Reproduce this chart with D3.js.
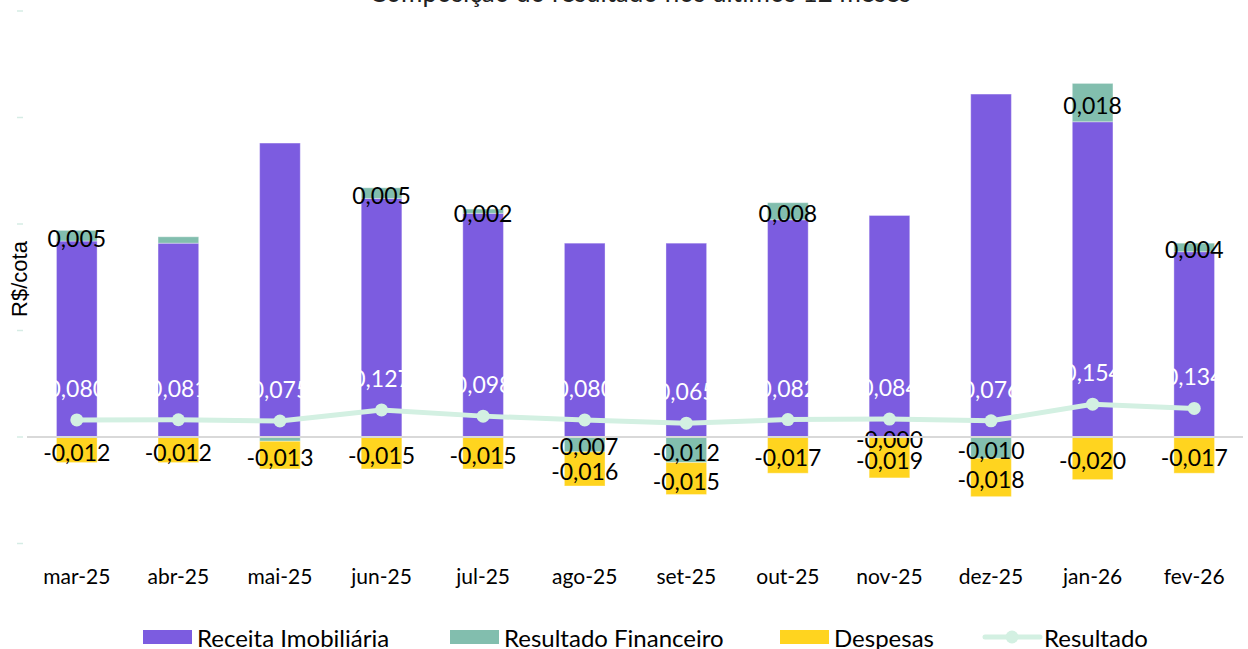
<!DOCTYPE html>
<html lang="pt">

<head>
    <meta charset="utf-8" />
    <script src="https://cdnjs.cloudflare.com/ajax/libs/d3/7.8.5/d3.min.js"></script>
    <style type="text/css">
        body {
            margin: 0;
            background: #fff;
        }

        text {
            font-family: Lato, "Open Sans", sans-serif;
        }
    </style>
</head>

<body>
    <div id="chart"></div>
    <script type="text/javascript">
        // values
        var months = ["mar-25", "abr-25", "mai-25", "jun-25", "jul-25", "ago-25",
            "set-25", "out-25", "nov-25", "dez-25", "jan-26", "fev-26"];
        var receita = [0.092, 0.091, 0.138, 0.112, 0.105, 0.091, 0.091, 0.102, 0.104, 0.161, 0.148, 0.087];
        var financeiro = [0.005, 0.003, -0.002, 0.005, 0.002, -0.007, -0.012, 0.008, -0.0002, -0.010, 0.018, 0.004];
        var showFinLabel = [true, false, false, true, true, true, true, true, true, true, true, true];
        var despesas = [-0.012, -0.012, -0.013, -0.015, -0.015, -0.016, -0.015, -0.017, -0.019, -0.018, -0.020, -0.017];
        var resultado = [0.080, 0.081, 0.075, 0.127, 0.098, 0.080, 0.065, 0.082, 0.084, 0.076, 0.154, 0.134];
        var yTicks = [-0.05, 0, 0.05, 0.1, 0.15, 0.2];

        var legendItems = [
            { name: "Receita Imobiliária", color: "#7c5ce0", kind: "bar", x: 143 },
            { name: "Resultado Financeiro", color: "#82beae", kind: "bar", x: 450 },
            { name: "Despesas", color: "#ffd41f", kind: "bar", x: 780 },
            { name: "Resultado", color: "#d3f0e2", kind: "line", x: 985 }
        ];

        var width = 1248, height = 649;
        var cPurple = "#7c5ce0", cTeal = "#82beae", cYellow = "#ffd41f", cLine = "#d3f0e2";

        var ptBR = d3.formatLocale({
            decimal: ",", thousands: ".", grouping: [3], currency: ["R$ ", ""], minus: "-"
        });
        var f3 = ptBR.format(".3f");
        // keep the sign on tiny negatives (-0,000) like the original
        var fmt = function (v) { return (v < 0 ? "-" : "") + f3(Math.abs(v)); };

        var svg = d3.select("#chart").append("svg")
            .attr("width", width)
            .attr("height", height);

        var x = d3.scaleBand()
            .domain(months)
            .range([26, 1245])
            .paddingInner(0.6)
            .paddingOuter(0.3);

        var y = d3.scaleLinear().domain([-0.05, 0.2]).range([543.5, 11]);
        // secondary axis for the line (hidden)
        var y2 = d3.scaleLinear().domain([-0.5, 2.0]).range([543.5, 11]);

        // build stacked segments
        var rows = months.map(function (m, i) {
            var r = receita[i], f = financeiro[i], d = despesas[i];
            var finLo = f >= 0 ? r : f, finHi = f >= 0 ? r + f : 0;
            var dBase = f < 0 ? f : 0;
            return {
                month: m,
                segs: [
                    { key: "rec", color: cPurple, y0: 0, y1: r },
                    { key: "fin", color: cTeal, y0: finLo, y1: finHi, value: f, show: showFinLabel[i] },
                    { key: "desp", color: cYellow, y0: dBase + d, y1: dBase, value: d, show: true }
                ]
            };
        });

        // title (mostly above the visible area, like the reference)
        svg.append("text")
            .attr("x", 640)
            .attr("y", 2)
            .attr("text-anchor", "middle")
            .style("font-size", "26px")
            .attr("fill", "#222")
            .text("Composição do resultado nos últimos 12 meses");

        // tiny y tick marks
        svg.append("g").selectAll("line")
            .data(yTicks)
            .enter().append("line")
            .attr("x1", 17).attr("x2", 23)
            .attr("y1", function (d) { return y(d); })
            .attr("y2", function (d) { return y(d); })
            .attr("stroke", "#d6ece5")
            .attr("stroke-width", 1.5);

        svg.append("text")
            .attr("transform", "translate(27," + 279 + ") rotate(-90)")
            .attr("text-anchor", "middle")
            .style("font-family", "'Liberation Sans', Arial, sans-serif")
            .style("font-size", "22px")
            .attr("fill", "#000")
            .text("R$/cota");

        // bars
        var groups = svg.append("g").selectAll("g")
            .data(rows)
            .enter().append("g");

        groups.selectAll("rect")
            .data(function (d) { return d.segs.map(function (s) { s.month = d.month; return s; }); })
            .enter().append("rect")
            .attr("x", function (d) { return x(d.month); })
            .attr("width", x.bandwidth())
            .attr("y", function (d) { return y(Math.max(d.y0, d.y1)); })
            .attr("height", function (d) { return Math.abs(y(d.y0) - y(d.y1)); })
            .attr("fill", function (d) { return d.color; })
            .attr("stroke", "rgba(255,255,255,0.35)")
            .attr("stroke-width", 1);

        // zero line
        svg.append("line")
            .attr("x1", 27).attr("x2", 1243)
            .attr("y1", y(0)).attr("y2", y(0))
            .attr("stroke", "#d9d9d9")
            .attr("stroke-width", 2);

        // resultado line
        var line = d3.line()
            .x(function (d, i) { return x(months[i]) + x.bandwidth() / 2; })
            .y(function (d) { return y2(d); });

        svg.append("path")
            .datum(resultado)
            .attr("d", line)
            .attr("fill", "none")
            .attr("stroke", cLine)
            .attr("stroke-width", 5)
            .attr("stroke-linejoin", "round");

        svg.append("g").selectAll("circle")
            .data(resultado)
            .enter().append("circle")
            .attr("cx", function (d, i) { return x(months[i]) + x.bandwidth() / 2; })
            .attr("cy", function (d) { return y2(d); })
            .attr("r", 6.5)
            .attr("fill", cLine);

        // resultado labels (white; invisible outside the bars)
        svg.append("g").selectAll("text")
            .data(resultado)
            .enter().append("text")
            .attr("x", function (d, i) { return x(months[i]) + x.bandwidth() / 2; })
            .attr("y", function (d) { return y2(d) - 32; })
            .attr("text-anchor", "middle")
            .attr("dominant-baseline", "central")
            .style("font-size", "23px")
            .attr("fill", "#fff")
            .text(function (d) { return fmt(d); });

        // segment labels
        groups.selectAll("text.seg")
            .data(function (d) { return d.segs.filter(function (s) { return s.key !== "rec" && s.show; }); })
            .enter().append("text")
            .attr("class", "seg")
            .attr("x", function (d) { return x(d.month) + x.bandwidth() / 2; })
            .attr("y", function (d) { return (y(d.y0) + y(d.y1)) / 2 + 2; })
            .attr("text-anchor", "middle")
            .attr("dominant-baseline", "central")
            .style("font-size", "23px")
            .attr("fill", "#000")
            .text(function (d) { return fmt(d.value); });

        // x axis labels
        svg.append("g").selectAll("text")
            .data(months)
            .enter().append("text")
            .attr("x", function (d) { return x(d) + x.bandwidth() / 2; })
            .attr("y", 575)
            .attr("text-anchor", "middle")
            .attr("dominant-baseline", "central")
            .style("font-size", "21px")
            .attr("fill", "#000")
            .text(function (d) { return d; });

        // legend
        var legend = svg.append("g").selectAll("g")
            .data(legendItems)
            .enter().append("g")
            .attr("transform", function (d) { return "translate(" + d.x + ",637)"; });

        legend.filter(function (d) { return d.kind === "bar"; })
            .append("rect")
            .attr("x", 0).attr("y", -7)
            .attr("width", 49).attr("height", 14)
            .attr("fill", function (d) { return d.color; });

        var lineItems = legend.filter(function (d) { return d.kind === "line"; });
        lineItems.append("line")
            .attr("x1", 0).attr("x2", 55)
            .attr("stroke", function (d) { return d.color; })
            .attr("stroke-width", 5)
            .attr("stroke-linecap", "round");
        lineItems.append("circle")
            .attr("cx", 27).attr("r", 6.5)
            .attr("fill", function (d) { return d.color; });

        legend.append("text")
            .attr("x", function (d) { return d.kind === "bar" ? 54 : 59; })
            .attr("y", 0)
            .attr("dominant-baseline", "central")
            .style("font-size", "24px")
            .attr("fill", "#000")
            .text(function (d) { return d.name; });
    </script>
</body>

</html>
